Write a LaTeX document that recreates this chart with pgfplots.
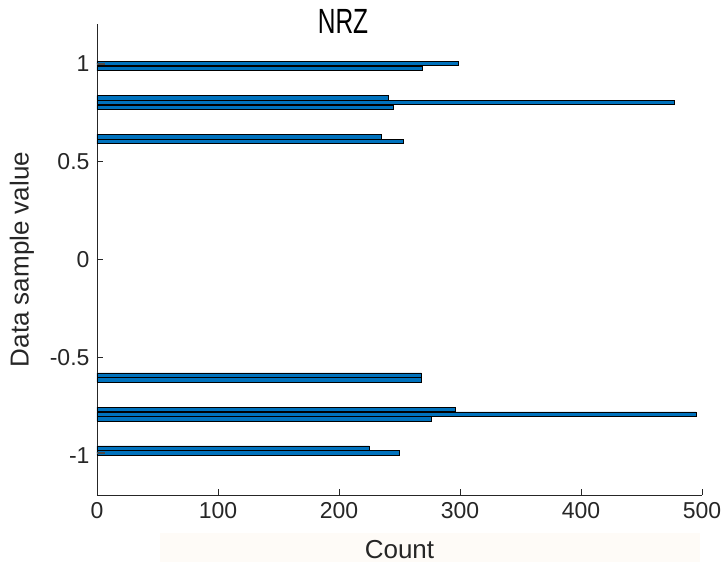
\documentclass[border=0pt]{standalone}
\usepackage{pgfplots}
\pgfplotsset{compat=1.18}
\usepackage{graphicx}
\usepackage{fontspec}
\setmainfont{Liberation Sans}
\definecolor{mlblue}{rgb}{0,0.447,0.741}
\definecolor{axgray}{gray}{0.15}
\definecolor{band}{RGB}{254,251,247}

\begin{document}
\begin{tikzpicture}[x=1pt,y=1pt]
\path[use as bounding box] (-97,-69) rectangle (625,495);
\fill[band] (63,-38) rectangle (603,-67);
\begin{axis}[
  at={(0,0)}, anchor=south west,
  scale only axis, width=605pt, height=471pt,
  xmin=0, xmax=500, ymin=-1.2, ymax=1.2,
  axis x line*=bottom, axis y line*=left,
  axis line style={axgray, line width=0.7pt},
  tick align=inside, major tick length=6pt,
  tick style={axgray, line width=0.7pt},
  xtick={0,100,200,300,400,500},
  ytick={-1,-0.5,0,0.5,1},
  yticklabels={-1,-0.5,0,0.5,1},
  xticklabels={0,100,200,300,400,500},
  ticklabel style={font=\fontsize{23}{27}\selectfont, text=axgray},
  xticklabel style={yshift=-4pt},
  yticklabel style={xshift=-4pt},
  xlabel={Count},
  ylabel={Data sample value},
  label style={font=\fontsize{26}{30}\selectfont, text=axgray},
  xlabel style={at={(axis description cs:0.5,0)}, anchor=center, yshift=-55pt},
  ylabel style={at={(axis description cs:0,0.5)}, anchor=center, rotate=0, yshift=75pt},
  title={\scalebox{0.7}[1]{NRZ}},
  title style={at={(axis description cs:0.4066,1)}, anchor=center, yshift=-3pt,
    font=\fontsize{35}{40}\selectfont, text=black},
  clip=false,
]
% histogram of sample values, bins of width 0.0248
\addplot[xbar, bar shift=0pt, bar width=0.0225, fill=mlblue, draw=black, line width=0.7pt]
  table[x=count, y=val] {
  val     count
  -0.986  250
  -0.961  225
  -0.812  276
  -0.788  495
  -0.763  296
  -0.614  268
  -0.589  268
   0.601  253
   0.626  235
   0.775  245
   0.800  477
   0.824  241
   0.973  269
   0.998  299
  };
% small overlaid counts at the outer bins
\addplot[xbar, bar shift=0pt, bar width=0.005, fill=mlblue!60!black, draw=black!70, line width=0.3pt]
  table[x=count, y=val] {
  val     count
  -0.984  6
   0.9975 6
  };
\end{axis}
\end{tikzpicture}
\end{document}
